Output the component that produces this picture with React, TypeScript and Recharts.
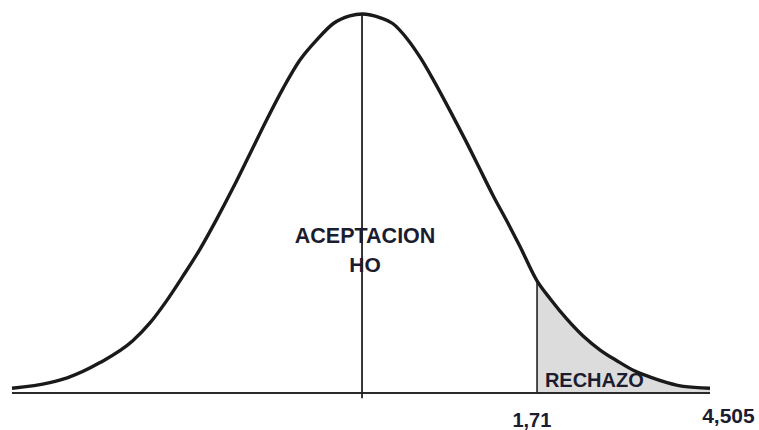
import React from 'react'
import { Area, ComposedChart, Line, ReferenceDot, ReferenceLine, XAxis, YAxis } from 'recharts'

// z positions along the curve and the density
const zValues = [
  -3.42, -3.05, -2.88, -2.56, -2.24, -2.07, -1.91, -1.75, -1.58, -1.42, -1.26, -1.09, -0.93, -0.77, -0.61,
  -0.44, -0.28, -0.12, 0, 0.18, 0.3, 0.44, 0.57, 0.69, 0.89, 1.03, 1.15, 1.28, 1.42, 1.54, 1.71, 1.84, 2.0,
  2.16, 2.33, 2.49, 2.65, 2.81, 2.98, 3.14, 3.4,
]
const density = [
  0.005, 0.011, 0.016, 0.032, 0.055, 0.074, 0.097, 0.123, 0.152, 0.183, 0.216, 0.253, 0.288, 0.321, 0.35,
  0.372, 0.389, 0.397, 0.399, 0.395, 0.389, 0.373, 0.353, 0.331, 0.291, 0.262, 0.236, 0.208, 0.18, 0.155,
  0.118, 0.099, 0.078, 0.06, 0.045, 0.034, 0.024, 0.017, 0.011, 0.007, 0.005,
]

const criticalZ = 1.71
const criticalLabel = '1,71'
const endLabel = '4,505'
const acceptLabel = ['ACEPTACION', 'HO']
const rejectLabel = 'RECHAZO'

const rows = zValues.map((z, i) => ({
  z,
  d: density[i],
  tail: z >= criticalZ ? density[i] : null,
}))
const criticalD = density[zValues.indexOf(criticalZ)]

const INK = '#1c1c30'
const FONT = '"Liberation Sans", Arial, sans-serif'

function textAt(txt: string, size: number) {
  return {
    content: (p: any) => {
      const vb = p.viewBox || {}
      const cx = (vb.x ?? 0) + (vb.width ?? 0) / 2
      const cy = (vb.y ?? 0) + (vb.height ?? 0) / 2
      return (
        <text x={cx} y={cy} textAnchor="middle" fill={INK} fontFamily={FONT} fontSize={size} fontWeight="bold">
          {txt}
        </text>
      )
    },
  }
}

export default function App() {
  return (
    <div style={{ position: 'absolute', left: 0, top: 0, width: 759, height: 430, background: '#fff' }}>
      <ComposedChart width={759} height={430} data={rows} margin={{ top: 14, right: 49, bottom: 37, left: 12 }}>
        <XAxis dataKey="z" type="number" domain={[-3.42, 3.4]} hide />
        <YAxis type="number" domain={[0, 0.399]} hide />
        <Area
          dataKey="tail"
          type="monotone"
          stroke="none"
          fill="#dcdcdc"
          fillOpacity={1}
          isAnimationActive={false}
        />
        <ReferenceLine y={0} stroke="#2a2a2a" strokeWidth={2} />
        <ReferenceLine
          segment={[
            { x: 0, y: -0.0055 },
            { x: 0, y: 0.399 },
          ]}
          stroke="#222"
          strokeWidth={1.8}
          ifOverflow="visible"
        />
        <ReferenceLine
          segment={[
            { x: criticalZ, y: 0 },
            { x: criticalZ, y: criticalD },
          ]}
          stroke="#222"
          strokeWidth={1.6}
          ifOverflow="visible"
        />
        <Line dataKey="d" type="monotone" stroke="#1a1a1a" strokeWidth={3.4} dot={false} isAnimationActive={false} />
        <ReferenceDot x={0.03} y={0.158} r={1} fill="none" stroke="none" ifOverflow="visible" label={textAt(acceptLabel[0], 21.5)} />
        <ReferenceDot x={0.03} y={0.127} r={1} fill="none" stroke="none" ifOverflow="visible" label={textAt(acceptLabel[1], 21)} />
        <ReferenceDot x={2.27} y={0.0063} r={1} fill="none" stroke="none" ifOverflow="visible" label={textAt(rejectLabel, 20)} />
        <ReferenceDot x={1.66} y={-0.0358} r={1} fill="none" stroke="none" ifOverflow="visible" label={textAt(criticalLabel, 20)} />
        <ReferenceDot x={3.58} y={-0.0316} r={1} fill="none" stroke="none" ifOverflow="visible" label={textAt(endLabel, 21)} />
      </ComposedChart>
    </div>
  )
}
